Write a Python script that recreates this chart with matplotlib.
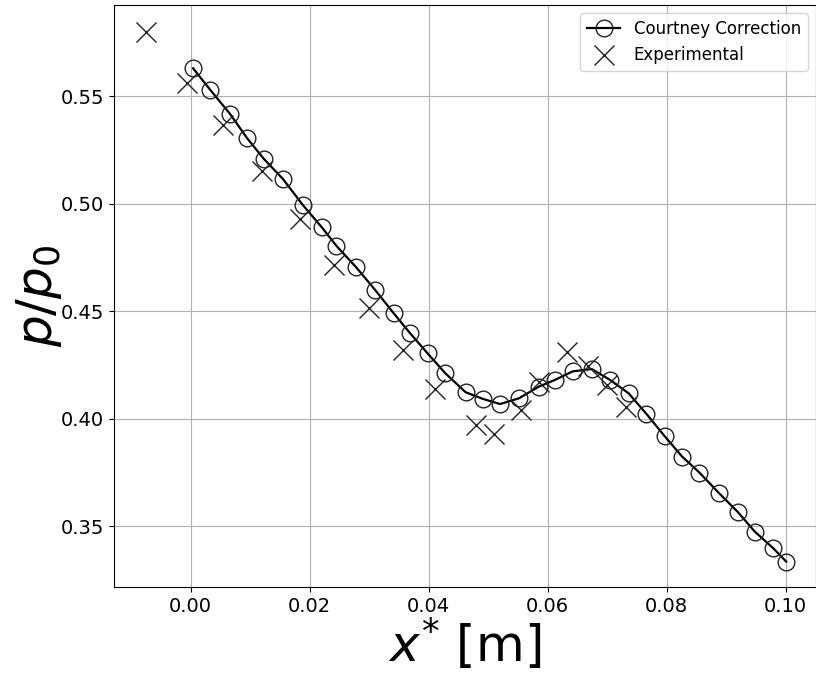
# pressure ratio along the wall, Courtney correction vs experiment
import matplotlib
matplotlib.use("Agg")
import matplotlib.pyplot as plt

# Courtney correction
x_court = [0.0004, 0.0033, 0.0066, 0.0095, 0.0123, 0.0155, 0.0188, 0.0220,
           0.0245, 0.0278, 0.0310, 0.0341, 0.0368, 0.0398, 0.0428, 0.0462,
           0.0491, 0.0520, 0.0552, 0.0585, 0.0612, 0.0642, 0.0674, 0.0705,
           0.0736, 0.0766, 0.0797, 0.0826, 0.0855, 0.0888, 0.0920, 0.0948,
           0.0979, 0.1001]
p_court = [0.5631, 0.5530, 0.5419, 0.5305, 0.5209, 0.5116, 0.4996, 0.4892,
           0.4804, 0.4705, 0.4599, 0.4491, 0.4400, 0.4304, 0.4211, 0.4123,
           0.4092, 0.4068, 0.4095, 0.4149, 0.4180, 0.4220, 0.4231, 0.4180,
           0.4118, 0.4022, 0.3917, 0.3823, 0.3749, 0.3653, 0.3564, 0.3474,
           0.3397, 0.3334]

# experimental data
x_exp = [-0.0075, -0.0006, 0.0054, 0.0119, 0.0184, 0.0241, 0.0299, 0.0357,
         0.0411, 0.0479, 0.0510, 0.0555, 0.0585, 0.0633, 0.0668, 0.0699,
         0.0731]
p_exp = [0.5802, 0.5564, 0.5367, 0.5153, 0.4929, 0.4717, 0.4517, 0.4321,
         0.4140, 0.3972, 0.3930, 0.4042, 0.4170, 0.4310, 0.4244, 0.4155,
         0.4055]

fig = plt.figure(figsize=(8.16, 6.75), dpi=100)
ax = fig.add_axes([114 / 816, 88 / 675, 702 / 816, 582 / 675])

ax.plot(x_court, p_court, color="black", lw=1.6, marker="o", ms=12,
        mfc="none", mec="#222222", mew=1.0, label="Courtney Correction")
ax.plot(x_exp, p_exp, ls="none", marker="x", ms=15, mec="#222222",
        mew=1.0, label="Experimental")

ax.set_xlim(-0.0129, 0.1051)
ax.set_ylim(0.3216, 0.5926)
ax.set_xticks([0.00, 0.02, 0.04, 0.06, 0.08, 0.10])
ax.set_yticks([0.35, 0.40, 0.45, 0.50, 0.55])
ax.tick_params(labelsize=14)
ax.grid(True, color="#b0b0b0", lw=0.8)

ax.set_xlabel(r"$x^{*}$ [m]", fontsize=36, labelpad=0)
ax.set_ylabel(r"$p/p_0$", fontsize=36, labelpad=-2)
ax.legend(loc="upper right", fontsize=12)

fig.savefig("out.png", dpi=100)
